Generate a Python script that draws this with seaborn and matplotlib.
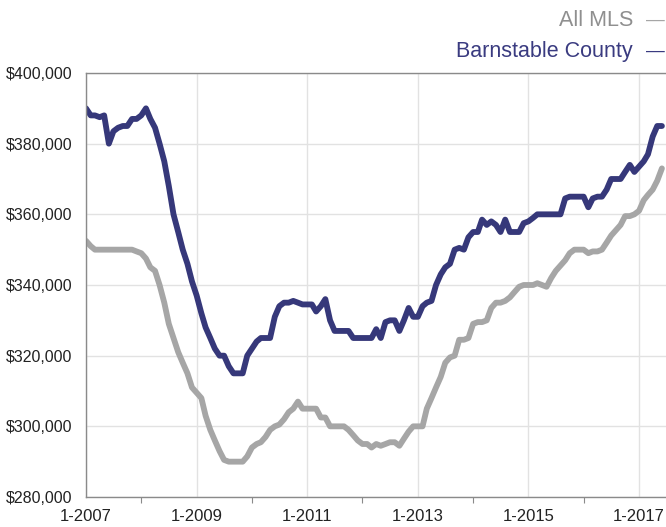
import numpy as np
import pandas as pd
import matplotlib.pyplot as plt
import matplotlib.dates as mdates
import seaborn as sns

# monthly median price (thousands), starting Jan 2007
barnstable = [
    390, 388, 388, 387.5, 388, 380, 383.5, 384.5, 385, 385, 387, 387,
    388, 390, 387, 384.5, 380, 375, 368, 360, 355, 350, 346, 341,
    337, 332, 328, 325, 322, 320, 320, 317, 315, 315, 315, 320,
    322, 324, 325, 325, 325, 331, 334, 335, 335, 335.5, 335, 334.5,
    334.5, 334.5, 332.5, 334, 336, 330, 327, 327, 327, 327, 325, 325,
    325, 325, 325, 327.5, 325, 329.5, 330, 330, 327, 330, 333.5, 331,
    331, 334, 335, 335.5, 340, 343, 345, 346, 350, 350.5, 350, 353.5,
    355, 355, 358.5, 357, 358, 357, 355, 358.5, 355, 355, 355, 357.5,
    358, 359, 360, 360, 360, 360, 360, 360, 364.5, 365, 365, 365,
    365, 362, 364.5, 365, 365, 367, 370, 370, 370, 372, 374, 372,
    373.5, 375, 377, 382, 385, 385,
]
all_mls = [
    352.5, 351, 350, 350, 350, 350, 350, 350, 350, 350, 350, 349.5,
    349, 347.5, 345, 344, 340, 335, 329, 325, 321, 318, 315, 311,
    309.5, 308, 303, 299, 296, 293, 290.5, 290, 290, 290, 290, 291.5,
    294, 295, 295.5, 297, 299, 300, 300.5, 302, 304, 305, 307, 305,
    305, 305, 305, 302.5, 302.5, 300, 300, 300, 300, 299, 297.5, 296,
    295, 295, 294, 295, 294.5, 295, 295.5, 295.5, 294.5, 296.5, 298.5, 300,
    300, 300, 305, 308, 311, 314, 318, 319.5, 320, 324.5, 324.5, 325,
    329, 329.5, 329.5, 330, 333.5, 335, 335, 335.5, 336.5, 338, 339.5, 340,
    340, 340, 340.5, 340, 339.5, 342, 344, 345.5, 347, 349, 350, 350,
    350, 349, 349.5, 349.5, 350, 352, 354, 355.5, 357, 359.5, 359.5, 360,
    361, 364, 365.5, 367, 369.5, 373,
]
series_names = ["All MLS", "Barnstable County"]
label_years = [2007, 2009, 2011, 2013, 2015, 2017]
minor_years = list(range(2007, 2018))
colors = {"All MLS": "#a6a6a6", "Barnstable County": "#36387a"}
text_colors = {"All MLS": "#8f8f8f", "Barnstable County": "#3a3b80"}

months = pd.date_range("2007-01-01", periods=len(barnstable), freq="MS")
df = pd.concat([
    pd.DataFrame({"date": months, "price": np.array(all_mls) * 1000, "series": "All MLS"}),
    pd.DataFrame({"date": months, "price": np.array(barnstable) * 1000, "series": "Barnstable County"}),
])

sns.set_style("white")
plt.rcParams["font.family"] = ["Liberation Sans", "DejaVu Sans"]

fig = plt.figure(figsize=(6.66, 5.27), dpi=100)
ax = fig.add_axes([86 / 666, 1 - 497 / 527, 1 - 86 / 666, (497 - 73) / 527])

sns.lineplot(data=df, x="date", y="price", hue="series", hue_order=series_names,
             palette=colors, linewidth=4.2, legend=False, ax=ax,
             solid_capstyle="round", solid_joinstyle="round")

ax.set_xlim(pd.Timestamp("2007-01-01"), pd.Timestamp("2017-06-28"))
ax.set_ylim(280000, 400000)
ax.set_yticks(np.arange(280000, 400001, 20000))
ax.yaxis.set_major_formatter(plt.FuncFormatter(lambda v, p: f"${v:,.0f}"))

ax.set_xticks([mdates.date2num(pd.Timestamp(f"{y}-01-01")) for y in label_years])
ax.set_xticklabels([f"1-{y}" for y in label_years])
ax.set_xticks([mdates.date2num(pd.Timestamp(f"{y}-01-01")) for y in minor_years], minor=True)

ax.grid(True, which="major", color="#e2e2e2", linewidth=1)
ax.set_axisbelow(True)
ax.set_xlabel("")
ax.set_ylabel("")

for side in ["left", "bottom", "top"]:
    ax.spines[side].set_color("#8a8a8a")
    ax.spines[side].set_linewidth(1)
ax.spines["right"].set_visible(False)

ax.tick_params(axis="y", length=0, pad=10, labelsize=11.5, labelcolor="#222222")
ax.tick_params(axis="x", which="both", direction="out", length=4.5, width=0.8,
               color="#8a8a8a", pad=4, labelsize=12, labelcolor="#222222")
ax.tick_params(axis="x", which="minor", bottom=True)

# legend as plain text, top right
for name, base in zip(series_names, [26, 57]):
    fig.text(633 / 666, 1 - base / 527, name, ha="right", va="baseline",
             fontsize=15.5, color=text_colors[name])
    fig.text(655.5 / 666, 1 - (base - 1) / 527, "\u2014", ha="center", va="baseline",
             fontsize=13.5, color=colors[name] if name == "All MLS" else text_colors[name])

fig.savefig("out.png", dpi=100)
